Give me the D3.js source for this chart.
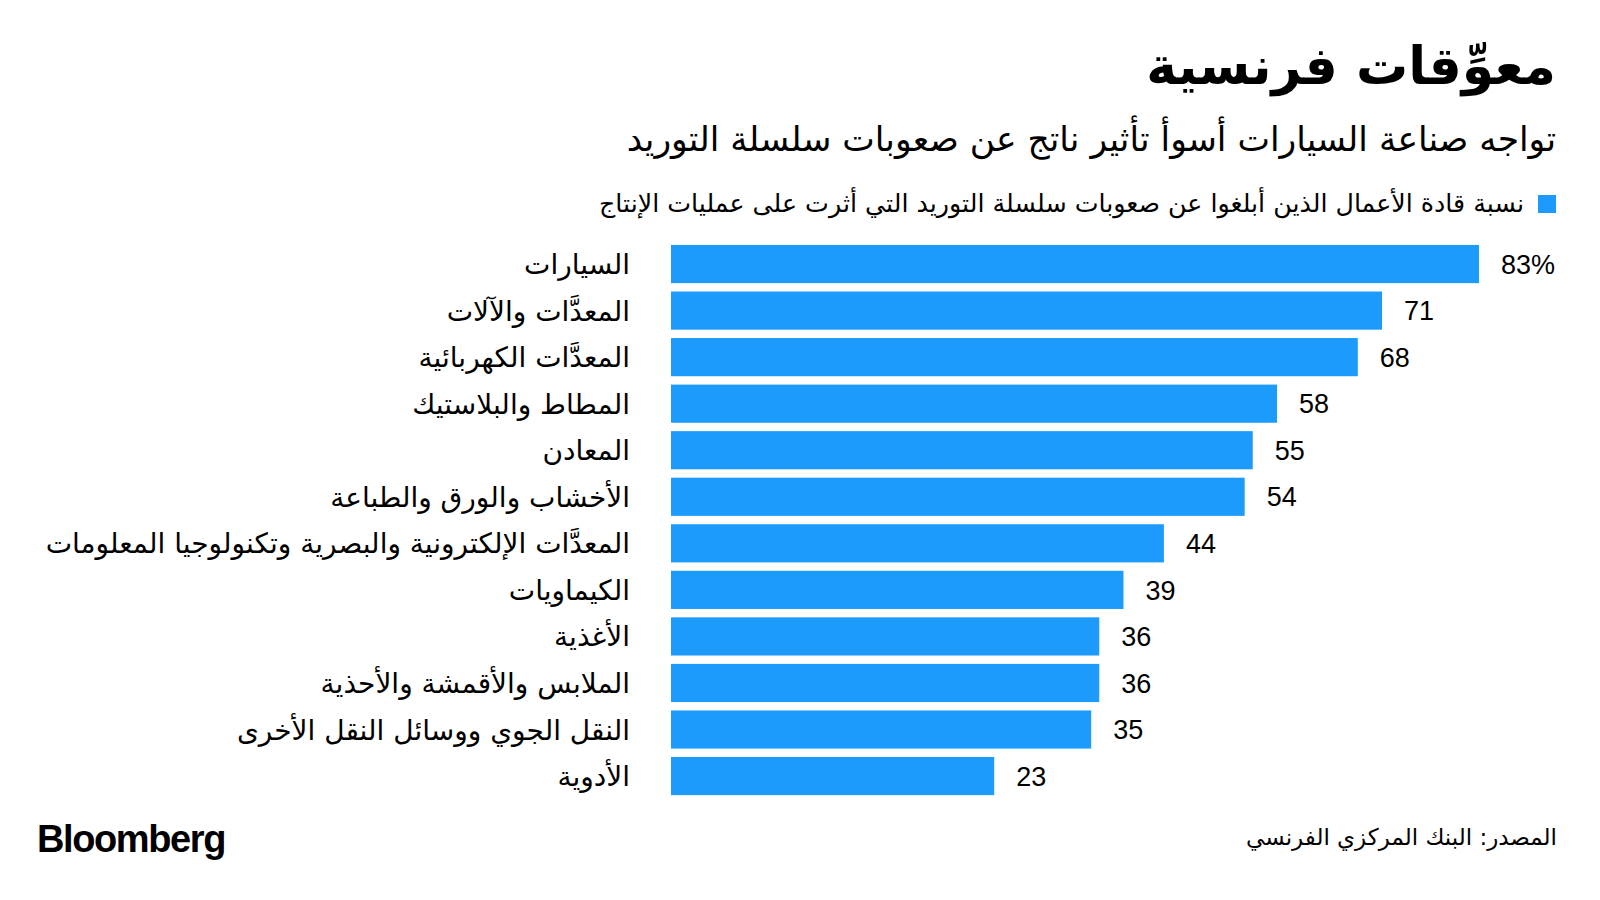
<!DOCTYPE html>
<html lang="ar">
<head>
<meta charset="utf-8">
<script src="https://cdn.jsdelivr.net/npm/d3@7"></script>
<style>
  html, body { margin: 0; padding: 0; background: #ffffff; }
  svg { display: block; }
  .ar { font-family: "DejaVu Sans", "Noto Sans", sans-serif; }
  .num { font-family: "Liberation Sans", Arial, sans-serif; }
</style>
</head>
<body>
<svg id="chart" width="1600" height="900"></svg>
<script>
// ---- data ----
const title = "معوِّقات فرنسية";
const subtitle = "تواجه صناعة السيارات أسوأ تأثير ناتج عن صعوبات سلسلة التوريد";
const legendLabel = "نسبة قادة الأعمال الذين أبلغوا عن صعوبات سلسلة التوريد التي أثرت على عمليات الإنتاج";
const sourceText = "المصدر: البنك المركزي الفرنسي";
const brand = "Bloomberg";

const categories = [
  "السيارات",
  "المعدَّات والآلات",
  "المعدَّات الكهربائية",
  "المطاط والبلاستيك",
  "المعادن",
  "الأخشاب والورق والطباعة",
  "المعدَّات الإلكترونية والبصرية وتكنولوجيا المعلومات",
  "الكيماويات",
  "الأغذية",
  "الملابس والأقمشة والأحذية",
  "النقل الجوي ووسائل النقل الأخرى",
  "الأدوية"
];
const values = [83, 71, 68, 58, 55, 54, 44, 39, 36, 36, 35, 23];
const valueLabels = ["83%", "71", "68", "58", "55", "54", "44", "39", "36", "36", "35", "23"];
const xDomain = [-17, 83];

// ---- drawing ----
const svg = d3.select("#chart");
const barColor = "#1d9bfd";

const x = d3.scaleLinear().domain(xDomain).range([671, 1479]);
const y = d3.scaleBand().domain(categories).range([240.3, 799.8])
  .paddingInner(0.18).paddingOuter(0.1);

// title
svg.append("text").attr("class", "ar")
  .attr("x", 1556).attr("y", 84)
  .attr("text-anchor", "end")
  .attr("font-size", 52).attr("font-weight", 700).attr("fill", "#000")
  .text(title);

svg.append("text").attr("class", "ar")
  .attr("x", 1556).attr("y", 151)
  .attr("text-anchor", "end")
  .attr("font-size", 34.5).attr("fill", "#000")
  .text(subtitle);

// legend
svg.append("rect").attr("x", 1538).attr("y", 195).attr("width", 18).attr("height", 18)
  .attr("fill", barColor);
svg.append("text").attr("class", "ar")
  .attr("x", 1524).attr("y", 212)
  .attr("text-anchor", "end")
  .attr("font-size", 25.3).attr("fill", "#000")
  .text(legendLabel);

// bars
const rows = categories.map((c, i) => ({ c, v: values[i], lab: valueLabels[i] }));
svg.append("g").selectAll("rect").data(rows).join("rect")
  .attr("x", x(xDomain[0]))
  .attr("y", d => y(d.c))
  .attr("width", d => x(d.v) - x(xDomain[0]))
  .attr("height", y.bandwidth())
  .attr("fill", barColor);

// value labels
svg.append("g").selectAll("text").data(rows).join("text")
  .attr("class", "num")
  .attr("x", d => x(d.v) + 22)
  .attr("y", d => y(d.c) + y.bandwidth() / 2)
  .attr("dy", "0.36em")
  .attr("font-size", 27).attr("fill", "#000")
  .text(d => d.lab);

// category labels
svg.append("g").selectAll("text").data(rows).join("text")
  .attr("class", "ar")
  .attr("x", 630)
  .attr("y", d => y(d.c) + y.bandwidth() / 2 + 10)
  .attr("text-anchor", "end")
  .attr("font-size", 28).attr("fill", "#000")
  .text(d => d.c);

// footer
svg.append("text")
  .attr("x", 37).attr("y", 852)
  .attr("font-family", "Liberation Sans, Arial, sans-serif")
  .attr("font-size", 38).attr("font-weight", 700).attr("letter-spacing", -1.4)
  .attr("fill", "#000")
  .text(brand);

svg.append("text").attr("class", "ar")
  .attr("x", 1557).attr("y", 845)
  .attr("text-anchor", "end")
  .attr("font-size", 23).attr("fill", "#000")
  .text(sourceText);
</script>
</body>
</html>
